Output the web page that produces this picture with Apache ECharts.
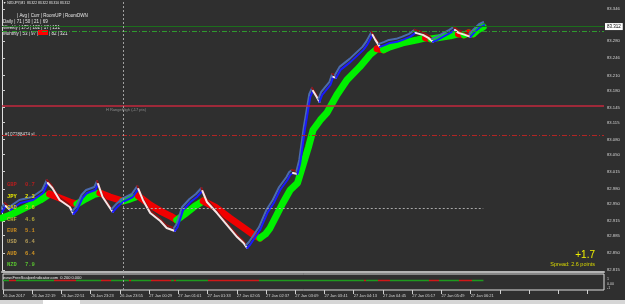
<!DOCTYPE html>
<html><head><meta charset="utf-8">
<script src="https://cdn.jsdelivr.net/npm/echarts@6/dist/echarts.min.js"></script>
<style>html,body{margin:0;padding:0;background:#2f2f2f;}#c{width:625px;height:304px;}</style>
</head><body><div id="c"></div>
<script>
// ---- data ----
const timeLabels = ['26 Jan 2017','26 Jan 22:19','26 Jan 22:51','26 Jan 23:23','26 Jan 23:55','27 Jan 00:29','27 Jan 01:01','27 Jan 01:33','27 Jan 02:05','27 Jan 02:37','27 Jan 03:09','27 Jan 03:41','27 Jan 04:13','27 Jan 04:45','27 Jan 05:17','27 Jan 05:49','27 Jan 06:21'];
const priceTicks = [83.346,83.280,83.246,83.210,83.180,83.145,83.115,83.080,83.050,83.015,82.980,82.950,82.915,82.885,82.850,82.815];
const priceBars = [0,4,9,20,34,45,50,55,63,74,78,82,88,93,102,105,110,118,121,126,132,143,149,154,162,173,180,189,192,198,206,213,219,224,235,246,257,264,268,271,282,290,297,304,312,315,318,323,326,331,337,340,344,347,350,359,362,365,370,381,395,399,405,408,413,419,424,432,438,446,452,460,466,471,476,482,490,495,499,506,512,517,523,527];
const priceValues = [82.9330,82.9452,82.9370,82.9513,82.9574,82.9716,82.9920,82.9818,82.9574,82.9431,82.9289,82.9370,82.9615,82.9716,82.9777,82.9899,82.9635,82.9411,82.9330,82.9431,82.9533,82.9635,82.9798,82.9574,82.9309,82.9147,82.9004,82.8943,82.9025,82.9370,82.9533,82.9635,82.9757,82.9533,82.9309,82.9065,82.8821,82.8699,82.8597,82.8658,82.8963,82.9309,82.9513,82.9777,82.9981,83.0082,83.0123,83.0103,83.0327,83.0998,83.1669,83.1792,83.1669,83.1568,83.1710,83.1914,83.2076,83.2056,83.2219,83.2382,83.2626,83.2727,83.2931,83.2829,83.2687,83.2727,83.2768,83.2789,83.2829,83.2890,83.2972,83.2931,83.2870,83.2789,83.2829,83.2890,83.2972,83.3033,83.2972,83.2931,83.2890,83.2992,83.3094,83.3130];
const maBars = [0,9,20,31,42,52,63,74,82,91,102,107,118,132,140,149,162,173,184,191,200,211,220,233,249,266,277,282,288,293,307,315,323,329,335,340,348,355,366,377,391,402,410,417,424,438,454,463,469,476,490,499,505,510,515,520,526];
const maValues = [82.9208,82.9269,82.9370,82.9472,82.9574,82.9696,82.9615,82.9533,82.9492,82.9594,82.9696,82.9716,82.9635,82.9553,82.9594,82.9655,82.9472,82.9350,82.9248,82.9167,82.9289,82.9452,82.9553,82.9431,82.9208,82.8984,82.8841,82.8801,82.8882,82.9004,82.9513,82.9777,82.9920,83.0286,83.0652,83.0998,83.1201,83.1344,83.1710,83.2015,83.2280,83.2524,83.2646,83.2626,83.2687,83.2768,83.2829,83.2870,83.2850,83.2870,83.2911,83.2951,83.2931,83.2972,83.2951,83.3033,83.3094];
const signalRedSpans = [[7,14],[56,80],[107,118],[138,140],[162,184],[187,189],[224,280],[395,397],[411,424],[466,477],[499,514]];
const signalStart = 0, signalEnd = 526, signalLevel = 0.2;
const bidPrice = 83.312;
const tpLevel = 83.295;
const rangeHighLevel = 83.147;
const slLevel = 83.086;
const openLevel = 82.941, openBar = 132;
const currNames = ['GBP','JPY','CAD','CHF','EUR','USD','AUD','NZD'];
const currValues = ['0.7','2.3','3.6','4.6','5.1','6.4','6.4','7.9'];
const headerLines = ['| Avg | Curr | RoomUP | RoomDWN','Daily | 71 | 50 | 21 | 69','Weekly | 175 | 102 | 17 | 151'];

// ---- styles ----
const currColors = ['#b41e1e','#e8e800','#cccc10','#b4a838','#c88a20','#b49c58','#d09424','#58c030'];
const FONT = "'Liberation Sans',sans-serif";
const LBL = '#d4d4d4';

function runs(xs, ys){
  const out=[]; let cur=null;
  for(let i=1;i<xs.length;i++){
    const up = ys[i] >= ys[i-1];
    if(!cur || cur.up!==up){ cur={up, pts:[[xs[i-1],ys[i-1]]]}; out.push(cur); }
    cur.pts.push([xs[i],ys[i]]);
  }
  return out;
}

const series = [];
runs(maBars, maValues).forEach(r=>{
  series.push({type:'line', xAxisIndex:0, yAxisIndex:0, data:r.pts, showSymbol:false, symbol:'none', z:2, silent:true,
    lineStyle:{width:7, color: r.up?'#00f000':'#f00000', cap:'round', join:'round'}});
});
runs(priceBars, priceValues).forEach(r=>{
  series.push({type:'line', xAxisIndex:0, yAxisIndex:0, data:r.pts, showSymbol:false, symbol:'none', z:4, silent:true,
    lineStyle:{width:2, color: r.up?'#1a1aff':'#f4e6e6', shadowColor: r.up?'#4a6aae':'#8c1414', shadowBlur:0, shadowOffsetX:-1, shadowOffsetY:-3, cap:'round', join:'round'}});
});
const dashDot = [5,2,1,2];
series.push({type:'line', xAxisIndex:0, yAxisIndex:0, data:[], z:1,
  markLine:{silent:true, symbol:['none','none'], animation:false, data:[
    {yAxis:bidPrice, lineStyle:{color:'#1c6e1c', type:'solid', width:1},
      label:{show:true, position:'end', distance:1, formatter: bidPrice.toFixed(3), backgroundColor:'#ffffff', color:'#000', fontSize:4.5, fontFamily:FONT, padding:[1,2,1,2]}},
    {yAxis:tpLevel, lineStyle:{color:'#2e9a2e', type:dashDot, width:1}, label:{show:false}},
    {yAxis:rangeHighLevel, lineStyle:{color:'#c4283e', type:'solid', width:1.5}, label:{show:false}},
    {yAxis:slLevel, lineStyle:{color:'#b22424', type:dashDot, width:1}, label:{show:false}},
    [{coord:[openBar, openLevel]},{coord:[signalEnd, openLevel]}].map(p=>Object.assign(p,{lineStyle:{color:'#a8a8a8', type:[2,2], width:1}, label:{show:false}})),
    {xAxis:openBar, lineStyle:{color:'#a0a0a0', type:[2,2], width:1}, label:{show:false}}
  ]}
});
const pieces = [];
let pos = signalStart;
signalRedSpans.forEach(s=>{
  if(s[0]>pos) pieces.push({gte:pos, lt:s[0], color:'#1e9a1e'});
  pieces.push({gte:s[0], lt:s[1], color:'#d01818'});
  pos = s[1];
});
pieces.push({gte:pos, lte:700, color:'#1e9a1e'});
series.push({type:'line', xAxisIndex:2, yAxisIndex:1, data:[[signalStart,signalLevel],[signalEnd,signalLevel]], showSymbol:false, symbol:'none', silent:true,
  lineStyle:{width:1.5},
  markLine:{silent:true, symbol:['none','none'], animation:false, data:[{xAxis:openBar, lineStyle:{color:'#a0a0a0', type:[2,2], width:1}, label:{show:false}}]}
});

const graphics = [];
graphics.push({type:'text', left:3, top:2, style:{text:'\u25BC NZDJPY,M1  83.322 83.322 83.310 83.312', fill:'#e8e8e8', font:"3.3px "+FONT}});
headerLines.forEach((t,i)=>{
  graphics.push({type:'text', left: i===0?17:3, top:13+i*6, style:{text:t, fill:'#e8e8e8', font:"4.5px "+FONT}});
});
graphics.push({type:'text', left:3, top:31, style:{text:'Monthly | 53 | 97 |', fill:'#e8e8e8', font:"4.5px "+FONT}});
graphics.push({type:'rect', left:38, top:30, shape:{width:10, height:5}, style:{fill:'#ff0000'}});
graphics.push({type:'text', left:49, top:31, style:{text:'| 82 | 321', fill:'#e8e8e8', font:"4.5px "+FONT}});
graphics.push({type:'text', left:106, top:108, style:{text:'H RangeHigh (-17 pts)', fill:'#8c8c8c', font:"4px "+FONT}});
graphics.push({type:'text', left:5, top:132, style:{text:'#107288474 sl', fill:'#dcdcdc', font:"4.5px "+FONT}});
currNames.forEach((n,i)=>{
  graphics.push({type:'text', left:7, top:182+i*11.4, z:10, style:{text:n, fill:currColors[i], font:"bold 5.5px 'Liberation Mono',monospace"}});
  graphics.push({type:'text', left:25, top:182+i*11.4, z:10, style:{text:currValues[i], fill:currColors[i], font:"bold 5.5px 'Liberation Mono',monospace"}});
});
graphics.push({type:'text', right:30, top:250, style:{text:'+1.7', fill:'#f0f000', font:"10px "+FONT}});
graphics.push({type:'text', right:30, top:261, style:{text:'Spread: 2.6 points', fill:'#d8d800', font:"5.5px "+FONT}});
graphics.push({type:'text', left:3, top:276, style:{text:'www.FreeScalperIndicator.com  0.200 0.000', fill:'#e8e8e8', font:"4px "+FONT}});
graphics.push({type:'text', left:607, top:277, style:{text:'1', fill:LBL, font:"3.6px "+FONT}});
graphics.push({type:'text', left:607, top:281.5, style:{text:'0.00', fill:LBL, font:"3.6px "+FONT}});
graphics.push({type:'text', left:607, top:286, style:{text:'-1', fill:LBL, font:"3.6px "+FONT}});
graphics.push({type:'rect', left:0, top:300, shape:{width:625, height:4}, style:{fill:'#d6d6d6'}});
graphics.push({type:'rect', left:43, top:300, shape:{width:37, height:4}, style:{fill:'#ffffff'}});

const chart = echarts.init(document.getElementById('c'), null, {renderer:'canvas'});
chart.setOption({
  animation:false,
  backgroundColor:'#2f2f2f',
  grid:[
    {left:2, right:21, top:0, bottom:32, show:false},
    {left:0, right:21, top:274, height:16, show:true, borderColor:'#dedede', borderWidth:1, backgroundColor:'transparent'}
  ],
  xAxis:[
    {type:'value', gridIndex:0, min:0, max:658, interval:32, position:'bottom',
      axisLine:{show:true, lineStyle:{color:'#b4b4b4', width:2}}, axisTick:{show:false}, axisLabel:{show:false}, splitLine:{show:false}},
    {type:'value', gridIndex:1, min:-2, max:658, interval:32, show:false},
    {type:'value', gridIndex:1, min:0, max:658, interval:32, position:'bottom', offset:0,
      axisLine:{show:false},
      axisTick:{show:true, length:4, lineStyle:{color:'#cfcfcf'}},
      splitLine:{show:false},
      axisLabel:{color:LBL, fontSize:4, fontFamily:FONT, align:'left', margin:4, showMaxLabel:false,
        formatter:(v)=>{const i=Math.round(v/32); return (v%32===0 && timeLabels[i])?timeLabels[i]:'';}}}
  ],
  yAxis:[
    {type:'value', gridIndex:0, min:82.811, max:83.364, position:'right',
      axisLine:{show:true, lineStyle:{color:'#e0e0e0'}},
      axisTick:{show:true, length:3, customValues:priceTicks, lineStyle:{color:'#cfcfcf'}},
      splitLine:{show:false},
      axisLabel:{color:LBL, fontSize:4.2, fontFamily:FONT, margin:3, customValues:priceTicks, formatter:(v)=>v.toFixed(3)}},
    {type:'value', gridIndex:1, min:-1, max:1, show:false, splitLine:{show:false}}
  ],
  visualMap:[{type:'piecewise', show:false, seriesIndex:series.length-1, dimension:0, pieces:pieces}],
  series: series,
  graphic: graphics
});
</script></body></html>
